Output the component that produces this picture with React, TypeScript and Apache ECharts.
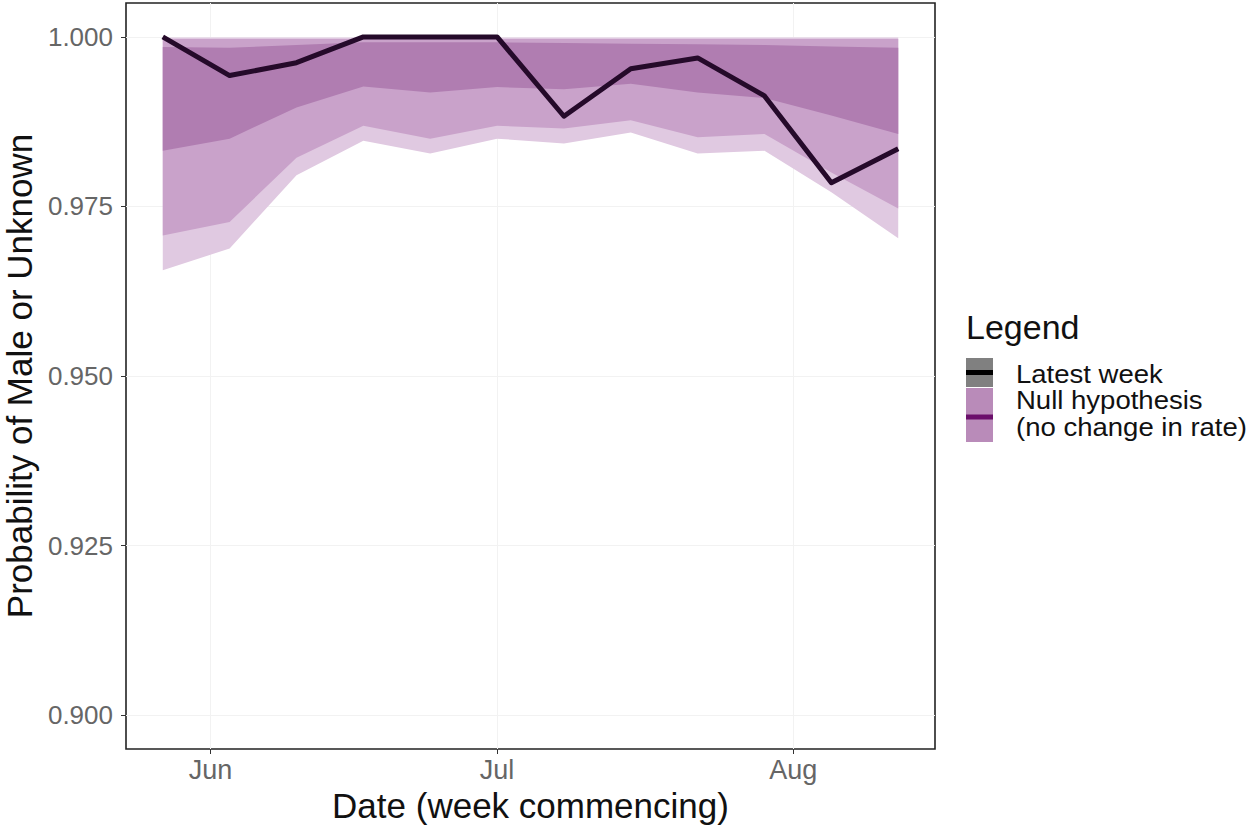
import React, { useEffect, useRef } from "react";
import * as echarts from "echarts";

// ---- data ----
const weeks = [
  "2019-05-27", "2019-06-03", "2019-06-10", "2019-06-17", "2019-06-24", "2019-07-01",
  "2019-07-08", "2019-07-15", "2019-07-22", "2019-07-29", "2019-08-05", "2019-08-12",
];
const latestWeek = [1.0, 0.9943, 0.9962, 1.0, 1.0, 1.0, 0.9883, 0.9953, 0.9969, 0.9913, 0.9785, 0.9835];

const outerLower = [0.9656, 0.9688, 0.9796, 0.9847, 0.9828, 0.985, 0.9843, 0.9859, 0.9828, 0.9832, 0.9771, 0.9703];
const outerUpper = [0.9999, 0.9999, 0.9999, 0.9999, 0.9999, 0.9999, 0.9999, 0.9999, 0.9999, 0.9999, 0.9999, 0.9999];
const midLower = [0.9707, 0.9727, 0.9822, 0.9869, 0.985, 0.9869, 0.9865, 0.9877, 0.9852, 0.9857, 0.98, 0.9747];
const midUpper = [0.9997, 0.9997, 0.9997, 0.9997, 0.9997, 0.9997, 0.9997, 0.9997, 0.9997, 0.9997, 0.9997, 0.9997];
const innerLower = [0.9832, 0.985, 0.9896, 0.9927, 0.9918, 0.9926, 0.9923, 0.9931, 0.9918, 0.991, 0.9884, 0.9857];
const innerUpper = [0.9985, 0.9984, 0.9988, 0.9992, 0.9992, 0.9992, 0.9991, 0.999, 0.9989, 0.9988, 0.9986, 0.9984];

const yTicks = [0.9, 0.925, 0.95, 0.975, 1.0];
const xTickDates = ["2019-06-01", "2019-07-01", "2019-08-01"];
const monthNames = ["Jan", "Feb", "Mar", "Apr", "May", "Jun", "Jul", "Aug", "Sep", "Oct", "Nov", "Dec"];

const legendTitle = "Legend";
const legendLabels = ["Latest week", "Null hypothesis", "(no change in rate)"];

const FONT = "'Liberation Sans', Arial, Helvetica, sans-serif";

export default function App() {
  const ref = useRef<HTMLDivElement>(null);

  useEffect(() => {
    if (!ref.current) return;
    const chart = echarts.init(ref.current, undefined, { renderer: "svg" });
    const ts = weeks.map((d) => Date.parse(d));
    const xTicks = xTickDates.map((d) => Date.parse(d));

    const ribbons = [
      { lo: outerLower, hi: outerUpper, color: "#e0c9e1" },
      { lo: midLower, hi: midUpper, color: "#c9a2ca" },
      { lo: innerLower, hi: innerUpper, color: "#b07db1" },
    ];

    const series: any[] = ribbons.map((r, i) => ({
      type: "custom",
      data: ts.map((t, j) => [t, r.lo[j], r.hi[j]]),
      encode: { x: 0, y: [1, 2] },
      clip: true,
      silent: true,
      z: 2 + i,
      renderItem: (params: any, api: any) => {
        if (params.dataIndex !== 0) return null;
        const top = ts.map((t, j) => api.coord([t, r.hi[j]]));
        const bot = ts.map((t, j) => api.coord([t, r.lo[j]])).reverse();
        return {
          type: "polygon",
          shape: { points: top.concat(bot) },
          style: { fill: r.color, stroke: null },
        };
      },
    }));
    series.push({
      type: "line",
      data: ts.map((t, j) => [t, latestWeek[j]]),
      symbol: "none",
      lineStyle: { color: "#250a2a", width: 5, join: "round" },
      z: 10,
    });

    const kx = 966;
    chart.setOption({
      animation: false,
      backgroundColor: "#ffffff",
      grid: {
        left: 126,
        right: 321,
        top: 3,
        bottom: 77,
        show: true,
        containLabel: false,
        outerBoundsMode: "none",
        borderColor: "#222",
        borderWidth: 1.6,
        backgroundColor: "#ffffff",
      },
      xAxis: {
        type: "value",
        min: Date.parse("2019-05-23T03:36:00Z"),
        max: Date.parse("2019-08-15T20:24:00Z"),
        name: "Date (week commencing)",
        nameLocation: "middle",
        nameGap: 32,
        nameTextStyle: { fontSize: 35, color: "#111", fontFamily: FONT },
        axisLine: { show: false },
        axisTick: {
          show: true,
          length: 5,
          lineStyle: { color: "#333" },
          customValues: xTicks,
        },
        axisLabel: {
          fontSize: 27,
          color: "#666",
          fontFamily: FONT,
          margin: 7,
          customValues: xTicks,
          formatter: (v: number) => monthNames[new Date(v).getUTCMonth()],
        },
        splitLine: { show: true, lineStyle: { color: "#f2f2f2", width: 1 } },
      },
      yAxis: {
        type: "value",
        min: 0.895,
        max: 1.005,
        name: "Probability of Male or Unknown",
        nameLocation: "middle",
        nameGap: 83,
        nameTextStyle: { fontSize: 35, color: "#111", fontFamily: FONT },
        axisLine: { show: false },
        axisTick: {
          show: true,
          length: 5,
          lineStyle: { color: "#333" },
          customValues: yTicks,
        },
        axisLabel: {
          fontSize: 26,
          color: "#666",
          fontFamily: FONT,
          margin: 13,
          customValues: yTicks,
          formatter: (v: number) => v.toFixed(3),
        },
        splitLine: { show: true, lineStyle: { color: "#f2f2f2", width: 1 } },
      },
      series,
      graphic: [
        {
          type: "text",
          style: { x: 966, y: 327, text: legendTitle, font: `34px ${FONT}`, fill: "#111", verticalAlign: "middle" },
        },
        { type: "rect", shape: { x: kx, y: 358, width: 27, height: 29 }, style: { fill: "#808080" } },
        { type: "line", shape: { x1: kx, y1: 372.5, x2: kx + 27, y2: 372.5 }, style: { stroke: "#000", lineWidth: 5 } },
        { type: "rect", shape: { x: kx, y: 388, width: 27, height: 54 }, style: { fill: "#b98bb9" } },
        { type: "line", shape: { x1: kx, y1: 417, x2: kx + 27, y2: 417 }, style: { stroke: "#6b0f6b", lineWidth: 5 } },
        {
          type: "text",
          x: 1016,
          y: 361,
          scaleX: 1.08,
          style: {
            x: 0,
            y: 0,
            text: legendLabels.join("\n"),
            font: `25.5px ${FONT}`,
            lineHeight: 26.5,
            fill: "#111",
            verticalAlign: "top",
          },
        },
      ],
    });
    return () => chart.dispose();
  }, []);

  return (
    <div
      ref={ref}
      style={{ position: "fixed", left: 0, top: 0, width: 1256, height: 826, background: "#fff" }}
    />
  );
}
